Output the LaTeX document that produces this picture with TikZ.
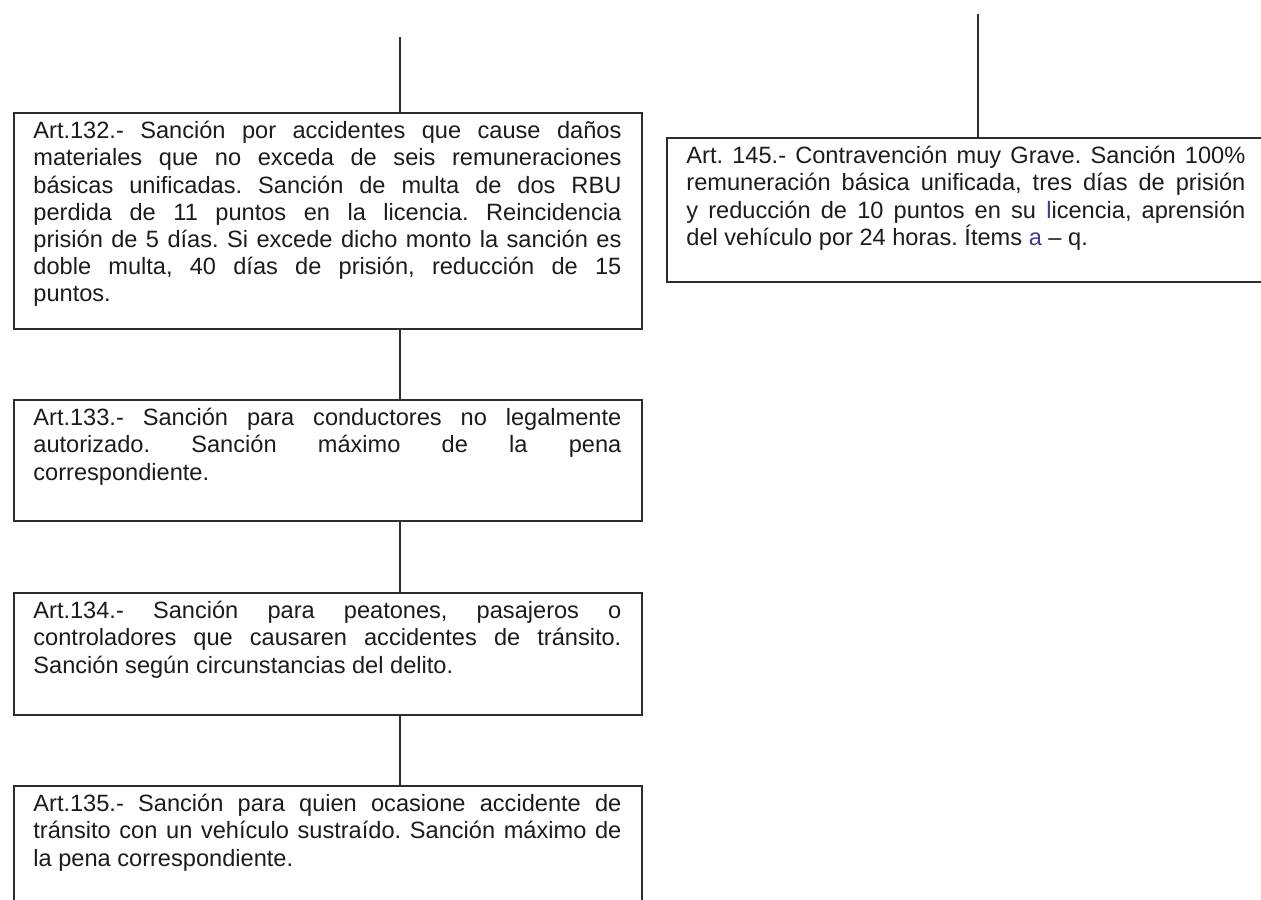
\documentclass[tikz,border=0pt]{standalone}
\usepackage{fontspec}
\setmainfont{Liberation Sans}
\frenchspacing
\definecolor{ink}{RGB}{28,28,28}
\definecolor{edge}{RGB}{45,45,45}
\definecolor{accent}{RGB}{70,55,150}
\newcommand\jl[2]{\makebox[#1][s]{#2}}
\newcommand\boxtext[2]{\parbox[t]{#1}{\fontsize{11.8pt}{13.6pt}\selectfont
  \parindent=0pt\parskip=0pt\frenchspacing #2}}
\begin{document}
\begin{tikzpicture}[x=0.5pt,y=-0.5pt,
  box/.style={draw=edge, line width=0.85pt, rectangle, inner sep=0pt, anchor=north west},
  txt/.style={anchor=north west, inner sep=0pt, text=ink},
  conn/.style={draw=edge, line width=0.85pt}]
\path[use as bounding box] (0,0) rectangle (1261,899);
\clip (0,0) rectangle (1261,899);
\fill[white] (0,0) rectangle (1261,899);

% boxes
\node[box, minimum width=314pt, minimum height=108pt] (b132) at (13,112) {};
\node[box, minimum width=314pt, minimum height=60.5pt] (b133) at (13,399) {};
\node[box, minimum width=314pt, minimum height=61pt] (b134) at (13,592) {};
\node[box, minimum width=314pt, minimum height=90pt] (b135) at (13,785) {};
\node[box, minimum width=299.5pt, minimum height=72pt] (b145) at (666,137) {};

% texts
\node[txt] (x132) at ([xshift=10pt,yshift=-4.5pt]b132.north west) {\boxtext{294pt}{%
\jl{294pt}{Art.132.- Sanción por accidentes que cause daños}\par
\jl{294pt}{materiales que no exceda de seis remuneraciones}\par
\jl{294pt}{básicas unificadas. Sanción de multa de dos RBU}\par
\jl{294pt}{perdida de 11 puntos en la licencia. Reincidencia}\par
\jl{294pt}{prisión de 5 días. Si excede dicho monto la sanción es}\par
\jl{294pt}{doble multa, 40 días de prisión, reducción de 15}\par
puntos.}};
\node[txt] (x133) at ([xshift=10pt,yshift=-4.5pt]b133.north west) {\boxtext{294pt}{%
\jl{294pt}{Art.133.- Sanción para conductores no legalmente}\par
\jl{294pt}{autorizado. Sanción máximo de la pena}\par
correspondiente.}};
\node[txt] (x134) at ([xshift=10pt,yshift=-4.5pt]b134.north west) {\boxtext{294pt}{%
\jl{294pt}{Art.134.- Sanción para peatones, pasajeros o}\par
\jl{294pt}{controladores que causaren accidentes de tránsito.}\par
Sanción según circunstancias del delito.}};
\node[txt] (x135) at ([xshift=10pt,yshift=-4.5pt]b135.north west) {\boxtext{294pt}{%
\jl{294pt}{Art.135.- Sanción para quien ocasione accidente de}\par
\jl{294pt}{tránsito con un vehículo sustraído. Sanción máximo de}\par
la pena correspondiente.}};
\node[txt] (x145) at ([xshift=10pt,yshift=-4.5pt]b145.north west) {\boxtext{279.5pt}{%
\jl{279.5pt}{Art. 145.- Contravención muy Grave. Sanción 100\%}\par
\jl{279.5pt}{remuneración básica unificada, tres días de prisión}\par
\jl{279.5pt}{y reducción de 10 puntos en su {\color{accent}l}icencia, aprensión}\par
del vehículo por 24 horas. Ítems {\color{accent}a} – q.}};

% connectors
\coordinate (t1) at (400,37);
\coordinate (t2) at (978,14);
\draw[conn] (t1) -- (b132.north -| t1);
\draw[conn] (b132.south -| t1) -- (b133.north -| t1);
\draw[conn] (b133.south -| t1) -- (b134.north -| t1);
\draw[conn] (b134.south -| t1) -- (b135.north -| t1);
\draw[conn] (t2) -- (b145.north -| t2);
\end{tikzpicture}
\end{document}
